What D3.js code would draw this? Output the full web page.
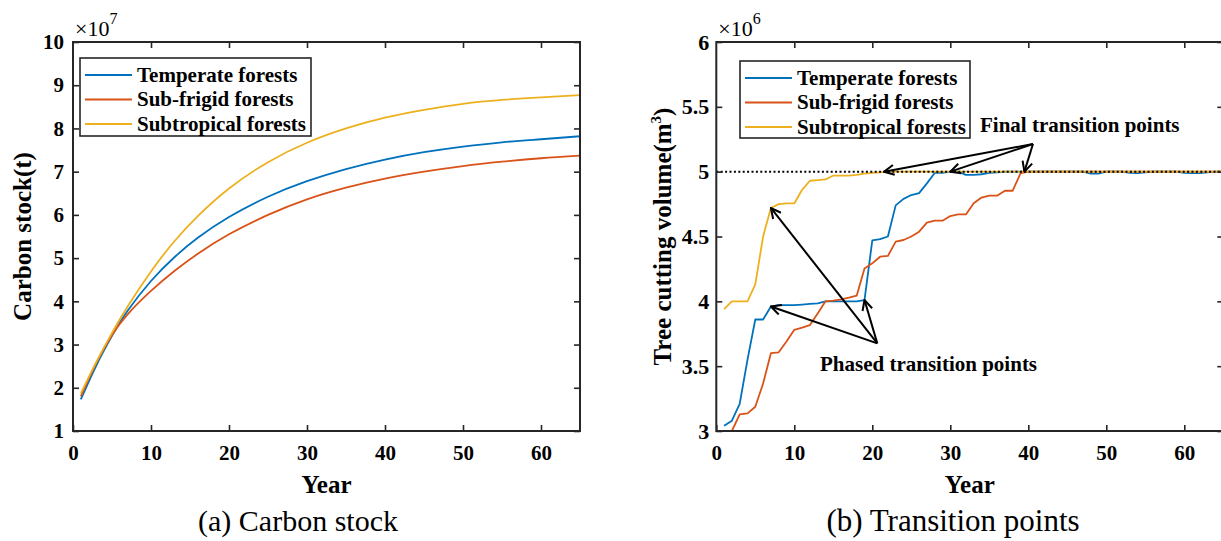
<!DOCTYPE html>
<html><head><meta charset="utf-8">
<script src="https://cdn.jsdelivr.net/npm/d3@7"></script>
<style>
html,body{margin:0;padding:0;background:#fff;}
svg{display:block;}
text{font-family:"Liberation Serif","Times New Roman",serif;fill:#000;}
</style></head><body>
<svg id="chart" width="1221" height="541"></svg>
<script>
// ---------- data ----------
const seriesNames = ["Temperate forests", "Sub-frigid forests", "Subtropical forests"];
const seriesColors = ["#0072BD", "#D95319", "#EDB120"];

// (a) Carbon stock (×10^7 t)
const stockYears = [1, 3, 5, 7, 10, 13, 16, 20, 25, 30, 35, 40, 45, 50, 55, 60, 65];
const temperateStock = [1.73, 2.52, 3.2, 3.78, 4.47, 5.02, 5.47, 5.95, 6.42, 6.78, 7.06, 7.28, 7.45, 7.58, 7.68, 7.75, 7.82];
const subFrigidStock = [1.8, 2.58, 3.22, 3.7, 4.24, 4.7, 5.1, 5.55, 6.0, 6.36, 6.63, 6.84, 7.0, 7.13, 7.23, 7.31, 7.37];
const subtropicalStock = [1.87, 2.6, 3.27, 3.88, 4.69, 5.39, 5.97, 6.61, 7.22, 7.67, 8.0, 8.25, 8.43, 8.57, 8.66, 8.72, 8.77];

// (b) Tree cutting volume (×10^6 m3)
const cutYears = [1,2,3,4,5,6,7,8,9,10,11,12,13,14,15,16,17,18,19,20,21,22,23,24,25,26,27,28,29,30,31,32,33,34,35,36,37,38,39,40,41,42,43,44,45,46,47,48,49,50,51,52,53,54,55,56,57,58,59,60,61,62,63,64,65];
const temperateCut = [3.04,3.08,3.21,3.55,3.86,3.86,3.96,3.97,3.97,3.97,3.975,3.98,3.985,4.0,4.0,4.0,4.0,4.0,4.01,4.47,4.48,4.5,4.74,4.79,4.82,4.835,4.91,4.99,4.99,5.0,5.0,4.975,4.975,4.98,4.99,4.995,5.0,5.0,5.0,5.0,5.0,5.0,5.0,5.0,5.0,5.0,5.0,4.985,4.985,5.0,5.0,5.0,4.99,4.988,4.995,5.0,5.0,5.0,5.0,4.99,4.988,4.988,4.995,5.0,5.0];
const subFrigidCut = [2.99,3.0,3.128,3.136,3.187,3.367,3.6,3.607,3.69,3.78,3.797,3.817,3.907,4.0,4.005,4.015,4.028,4.044,4.254,4.293,4.344,4.35,4.46,4.473,4.5,4.537,4.607,4.622,4.622,4.658,4.67,4.67,4.756,4.8,4.815,4.815,4.853,4.853,4.987,5.0,5.0,5.0,5.0,5.0,5.0,5.0,5.0,5.0,5.0,5.0,5.0,5.0,5.0,5.0,5.0,5.0,5.0,5.0,5.0,5.0,5.0,5.0,5.0,5.0,5.0];
const subtropicalCut = [3.94,4.0,4.0,4.0,4.13,4.5,4.72,4.75,4.755,4.755,4.86,4.93,4.935,4.94,4.97,4.97,4.97,4.975,4.985,4.99,4.995,5.0,5.0,5.0,5.0,5.0,5.0,5.0,5.0,5.0,5.0,5.0,5.0,5.0,5.0,5.0,5.0,5.0,5.0,5.0,5.0,5.0,5.0,5.0,5.0,5.0,5.0,5.0,5.0,5.0,5.0,5.0,5.0,5.0,5.0,5.0,5.0,5.0,5.0,5.0,5.0,5.0,5.0,5.0,5.0];

const xTicks = [0, 10, 20, 30, 40, 50, 60];
const stockTicks = [1, 2, 3, 4, 5, 6, 7, 8, 9, 10];
const cutTicks = [3, 3.5, 4, 4.5, 5, 5.5, 6];
const cutTickLabels = ["3", "3.5", "4", "4.5", "5", "5.5", "6"];
const targetLevel = 5;

// annotations (data coordinates)
const finalOrigin = [40.6, 5.213];
const finalTargets = [[21.5, 5.0], [30, 5.0], [39.5, 5.0]];
const phasedOrigin = [20.64, 3.676];
const phasedTargets = [[7, 4.72], [7, 3.96], [19, 4.01]];

// ---------- drawing ----------
const svg = d3.select("#chart");
const INK = "#262626";
const TOP = 42, BOTTOM = 431;

const defs = svg.append("defs");
defs.append("marker").attr("id", "arrowhead")
  .attr("viewBox", "0 0 12 12").attr("refX", 11).attr("refY", 6)
  .attr("markerWidth", 12).attr("markerHeight", 12)
  .attr("markerUnits", "userSpaceOnUse").attr("orient", "auto")
  .append("path").attr("d", "M1,1 L11,6 L1,11")
  .attr("fill", "none").attr("stroke", "#000").attr("stroke-width", 2);

function panel(o) {
  const g = svg.append("g");
  const x = d3.scaleLinear().domain([0, 65]).range([o.x0, o.x1]);
  const y = d3.scaleLinear().domain(o.yDomain).range([BOTTOM, TOP]);

  defs.append("clipPath").attr("id", o.id + "clip")
    .append("rect").attr("x", o.x0).attr("y", TOP)
    .attr("width", o.x1 - o.x0).attr("height", BOTTOM - TOP);

  const lines = g.append("g").attr("clip-path", `url(#${o.id}clip)`);
  const line = d3.line().x(d => x(d[0])).y(d => y(d[1])).curve(o.curve);
  o.series.forEach((vals, i) => {
    lines.append("path")
      .datum(o.years.map((yr, k) => [yr, vals[k]]))
      .attr("d", line).attr("fill", "none")
      .attr("stroke", seriesColors[i]).attr("stroke-width", 1.8)
      .attr("stroke-linejoin", "round");
  });
  if (o.refLine !== undefined) {
    lines.append("line")
      .attr("x1", x(0)).attr("x2", x(65))
      .attr("y1", y(o.refLine)).attr("y2", y(o.refLine))
      .attr("stroke", "#000").attr("stroke-width", 2)
      .attr("stroke-dasharray", "2,2.4");
  }

  function styleAxis(sel, fs) {
    sel.select(".domain").remove();
    sel.selectAll(".tick line").attr("stroke", INK).attr("stroke-width", 1.6);
    sel.selectAll(".tick text").attr("font-size", fs || 21).attr("font-weight", "bold")
      .attr("fill", "#000").attr("font-family", '"Liberation Serif","Times New Roman",serif');
  }
  g.append("g").attr("transform", `translate(0,${BOTTOM})`)
    .call(d3.axisBottom(x).tickValues(xTicks).tickSizeInner(-6).tickSizeOuter(0).tickPadding(14))
    .call(styleAxis);
  g.append("g").attr("transform", `translate(0,${TOP})`)
    .call(d3.axisTop(x).tickValues(xTicks.filter(v => v > 0)).tickSizeInner(-6).tickSizeOuter(0).tickFormat(""))
    .call(styleAxis);
  g.append("g").attr("transform", `translate(${o.x0},0)`)
    .call(d3.axisLeft(y).tickValues(o.yTicks).tickFormat((d, i) => o.yLabels[i])
      .tickSizeInner(-6).tickSizeOuter(0).tickPadding(o.yPad))
    .call(s => styleAxis(s, o.yFont));
  g.append("g").attr("transform", `translate(${o.x1},0)`)
    .call(d3.axisRight(y).tickValues(o.yTicks).tickSizeInner(-6).tickSizeOuter(0).tickFormat(""))
    .call(styleAxis);

  g.append("rect").attr("x", o.x0).attr("y", TOP)
    .attr("width", o.x1 - o.x0).attr("height", BOTTOM - TOP)
    .attr("fill", "none").attr("stroke", INK).attr("stroke-width", 2);

  // exponent
  const ex = g.append("text").attr("x", o.x0 + 2).attr("y", 36).attr("font-size", 22);
  ex.append("tspan").text("×10");
  ex.append("tspan").attr("dy", -12).attr("font-size", 16).text(o.exponent);

  // axis titles
  g.append("text").attr("x", (o.x0 + o.x1) / 2).attr("y", 493)
    .attr("text-anchor", "middle").attr("font-size", 25).attr("font-weight", "bold").text("Year");
  const yl = g.append("text")
    .attr("transform", `translate(${o.yTitleX},${(TOP + BOTTOM) / 2}) rotate(-90)`)
    .attr("text-anchor", "middle").attr("font-size", 25).attr("font-weight", "bold");
  o.yTitle(yl);

  g.append("text").attr("x", o.captionX).attr("y", 531)
    .attr("text-anchor", "middle").attr("font-size", o.captionFont).text(o.caption);

  // legend
  const L = o.legend;
  g.append("rect").attr("x", L.x).attr("y", L.y).attr("width", L.w).attr("height", L.h)
    .attr("fill", "#fff").attr("stroke", INK).attr("stroke-width", 1.6);
  seriesNames.forEach((name, i) => {
    const cy = L.y + 17 + i * 24.5;
    g.append("line").attr("x1", L.x + 5).attr("x2", L.x + 52)
      .attr("y1", cy).attr("y2", cy).attr("stroke", seriesColors[i]).attr("stroke-width", 1.8);
    g.append("text").attr("x", L.x + 57).attr("y", cy).attr("dy", "0.33em")
      .attr("font-size", 21).attr("font-weight", "bold").text(name);
  });
  return {x, y, g};
}

// (a)
panel({
  id: "a", x0: 73, x1: 580, yDomain: [1, 10],
  years: stockYears, series: [temperateStock, subFrigidStock, subtropicalStock],
  curve: d3.curveNatural,
  yTicks: stockTicks, yLabels: stockTicks.map(String), yPad: 9, yFont: 21,
  exponent: "7", caption: "(a) Carbon stock", captionX: 298, captionFont: 30, yTitleX: 31,
  yTitle: t => t.text("Carbon stock(t)"),
  legend: {x: 80, y: 58, w: 231, h: 78}
});

// (b)
const pb = panel({
  id: "b", x0: 716.3, x1: 1223.3, yDomain: [3, 6],
  years: cutYears, series: [temperateCut, subFrigidCut, subtropicalCut],
  curve: d3.curveLinear, refLine: targetLevel,
  yTicks: cutTicks, yLabels: cutTickLabels, yPad: 7, yFont: 22,
  exponent: "6", caption: "(b) Transition points", captionX: 953, captionFont: 31, yTitleX: 671,
  yTitle: t => {
    t.append("tspan").text("Tree cutting volume(m");
    t.append("tspan").attr("dy", -10).attr("font-size", 15).text("3");
    t.append("tspan").attr("dy", 10).text(")");
  },
  legend: {x: 740, y: 61, w: 230, h: 77}
});

// annotations
const ann = pb.g.append("g");
function arrows(origin, targets) {
  targets.forEach(t => {
    ann.append("line")
      .attr("x1", pb.x(origin[0])).attr("y1", pb.y(origin[1]))
      .attr("x2", pb.x(t[0])).attr("y2", pb.y(t[1]))
      .attr("stroke", "#000").attr("stroke-width", 2)
      .attr("marker-end", "url(#arrowhead)");
  });
}
arrows(finalOrigin, finalTargets);
arrows(phasedOrigin, phasedTargets);
ann.append("text").attr("x", 980).attr("y", 132).attr("font-size", 21)
  .attr("font-weight", "bold").text("Final transition points");
ann.append("text").attr("x", 820).attr("y", 371).attr("font-size", 21)
  .attr("font-weight", "bold").text("Phased transition points");
</script>
</body></html>
